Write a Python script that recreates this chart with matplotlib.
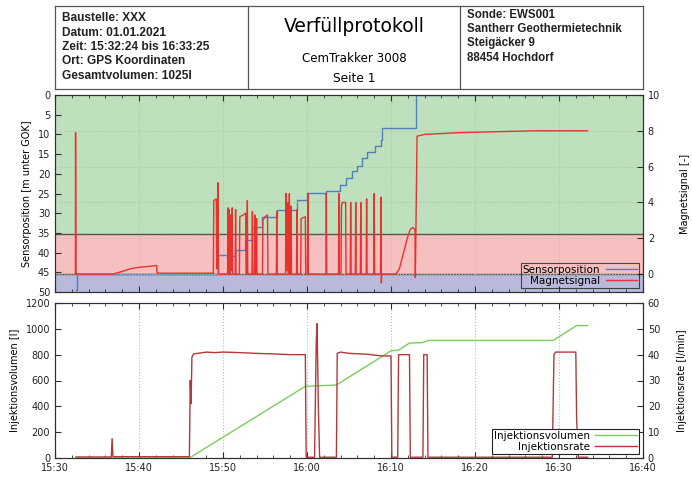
import matplotlib
matplotlib.use("Agg")
import matplotlib.pyplot as plt
import matplotlib.dates as mdates
import pandas as pd

# Zeitachse: Minuten nach 15:30
start = pd.Timestamp("2021-01-01 15:30:00")

# Sensorposition [m unter GOK] (Stufen)
pos_min = [2.45, 2.6, 19.4, 20.5, 21.0, 21.4, 22.6, 23.4, 24.6, 26.4, 28.8, 30.0,
           32.3, 33.9, 34.7, 35.4, 36.0, 36.5, 37.1, 38.1, 38.8, 38.9, 43.0, 63.4]
pos_m = [49.5, 45.5, 40.6, 41.6, 40.8, 39.3, 36.8, 33.4, 31.0, 29.2, 26.6, 24.9,
         24.4, 22.8, 21.1, 19.3, 18.0, 16.0, 14.5, 12.9, 11.4, 8.4, 0.0, 0.0]

# Magnetsignal [-]
mag_min = [2.43, 2.45, 2.5,
           6.9, 8.0, 9.0, 10.0, 11.0, 12.1, 12.15,
           18.85, 18.9, 19.2, 19.25, 19.35, 19.4, 19.45,
           20.55, 20.6, 20.65, 20.7, 20.75, 20.8, 20.85, 20.9, 20.95, 21.05, 21.1, 21.15,
           21.45, 21.5, 21.55,
           21.95, 22.0, 22.4, 22.7, 22.75,
           22.85, 22.9, 22.95,
           23.45, 23.5, 23.55,
           23.75, 23.8, 23.85,
           23.95, 24.0, 24.05,
           24.7, 24.75, 25.0, 25.3, 25.35,
           26.35, 26.4, 26.45,
           27.45, 27.5, 27.55, 27.65, 27.7, 27.75, 27.85, 27.9, 27.95, 28.05, 28.1, 28.15,
           28.75, 28.8, 28.85,
           29.25, 29.3, 29.8, 29.85,
           30.05, 30.1, 30.15,
           32.25, 32.3, 32.35,
           33.75, 33.8, 33.85, 34.05, 34.1, 34.2, 34.6, 34.65,
           35.15, 35.2, 35.25,
           35.75, 35.8, 35.85,
           36.35, 36.4, 36.45,
           37.05, 37.1, 37.15,
           37.95, 38.0, 38.05,
           38.75, 38.8, 38.85, 38.9,
           40.6, 41.0, 41.5, 42.0, 42.3, 42.6, 42.85, 42.9, 43.1, 44.0, 48.2, 57.0, 63.4]
mag_val = [0, 7.9, 0,
           0, 0.15, 0.3, 0.38, 0.42, 0.48, 0.05,
           0.05, 4.1, 4.2, 0.3, 0.3, 5.1, 0,
           0, 3.7, 0, 0, 3.6, 0, 0, 3.3, 0.2, 0.2, 3.7, 0,
           0, 3.6, 0,
           0, 3.2, 3.3, 3.4, 0,
           0, 4.1, 0,
           0, 3.5, 0,
           0, 3.3, 0,
           0, 3.1, 0,
           0, 3.0, 3.2, 3.3, 0,
           0, 3.5, 0,
           0, 4.5, 0.2, 0.2, 4.0, 0, 0, 4.5, 0, 0, 3.8, 0,
           0, 3.6, 0,
           0, 3.1, 3.2, 0,
           0, 4.5, 0,
           0, 4.5, 0,
           0, 4.5, 0, 0, 3.8, 4.0, 4.0, 0,
           0, 4.0, 0,
           0, 4.0, 0,
           0, 4.0, 0,
           0, 4.2, 0,
           0, 4.5, 0,
           0, 4.3, -0.5, 0,
           0, 0.3, 1.2, 2.1, 2.5, 2.6, 2.5, -0.2, 7.7, 7.8, 7.9, 8.0, 8.0]

# Injektionsvolumen [l]
vol_min = [2.5, 16.0, 29.8, 33.5, 40.0, 40.9, 42.2, 43.7, 44.5, 59.3, 62.1, 63.4]
vol_l = [0, 0, 555, 565, 830, 835, 890, 893, 910, 910, 1025, 1025]

# Injektionsrate [l/min]
rate_min = [2.5, 6.7, 6.8, 6.9, 16.0, 16.1, 16.2, 16.3, 16.5, 17.0, 18.0, 19.0, 20.0, 22.0,
            24.0, 26.0, 28.0, 29.8, 29.9, 30.9, 31.1, 31.2, 31.35, 31.5, 33.5, 33.6, 34.0,
            35.0, 37.0, 39.0, 40.0, 40.1, 40.8, 40.9, 42.2, 42.3, 43.8, 43.9, 44.3, 44.4,
            59.2, 59.3, 59.4, 59.6, 62.0, 62.1, 62.3, 63.4]
rate_val = [0.4, 0.4, 7.5, 0.5, 0.5, 30, 21, 39, 40.3, 40.5, 41.0, 40.8, 41.0, 40.8,
            40.5, 40.3, 40.0, 40.0, 0.3, 0.3, 45, 52, 20, 0.3, 0.3, 40.5, 41,
            40.5, 40.2, 39.5, 39.5, 0.3, 0.3, 40, 40, 0.3, 0.3, 40, 40, 0.3,
            0.3, 20, 40, 41, 41, 15, 0.3, 0.3]

header_left = ["Baustelle: XXX", "Datum: 01.01.2021", "Zeit: 15:32:24 bis 16:33:25",
               "Ort: GPS Koordinaten", "Gesamtvolumen: 1025l"]
header_right = ["Sonde: EWS001", "Santherr Geothermietechnik", "Steigäcker 9", "88454 Hochdorf"]


def to_time(mins):
    return start + pd.to_timedelta(mins, unit="min")


W, H = 692, 478
fig = plt.figure(figsize=(W / 100, H / 100), dpi=100)
plt.rcParams["font.size"] = 7


def px_axes(x0, y0, x1, y1):
    return fig.add_axes([x0 / W, 1 - y1 / H, (x1 - x0) / W, (y1 - y0) / H])


spine_col = "#303030"

# Kopfzeile
hax = px_axes(55, 6, 643, 89)
hax.set_xlim(0, 588)
hax.set_ylim(83, 0)
hax.set_xticks([])
hax.set_yticks([])
for s in hax.spines.values():
    s.set_color("#555555")
    s.set_linewidth(0.9)
hax.axvline(193, color="#555555", lw=0.9)
hax.axvline(405, color="#555555", lw=0.9)
for i, t in enumerate(header_left):
    hax.text(7, 12 + i * 14.5, t, fontsize=8.6, fontweight="bold", family="Liberation Sans",
             va="center", color="#222222")
for i, t in enumerate(header_right):
    hax.text(412, 9 + i * 14.2, t, fontsize=8.3, fontweight="bold", family="Liberation Sans",
             va="center", color="#222222")
hax.text(299, 21, "Verfüllprotokoll", fontsize=13.5, ha="center", va="center")
hax.text(299, 52, "CemTrakker 3008", fontsize=8.6, ha="center", va="center")
hax.text(299, 72, "Seite 1", fontsize=8.8, ha="center", va="center")

t0, t1 = pd.Timestamp("2021-01-01 15:30"), pd.Timestamp("2021-01-01 16:40")


def style_x(ax, labels):
    ax.set_xlim(t0, t1)
    ax.xaxis.set_major_locator(mdates.MinuteLocator(byminute=range(0, 60, 10)))
    ax.xaxis.set_minor_locator(mdates.MinuteLocator(byminute=range(0, 60, 2)))
    ax.xaxis.set_major_formatter(mdates.DateFormatter("%H:%M"))
    ax.tick_params(axis="x", which="both", direction="in", top=True, labelbottom=labels,
                   colors=spine_col, labelcolor="#222222")
    ax.tick_params(axis="x", which="major", length=4)
    ax.tick_params(axis="x", which="minor", length=2)
    ax.grid(axis="x", which="major", linestyle=":", color="#bbbbbb", lw=0.8)
    for s in ax.spines.values():
        s.set_color(spine_col)
        s.set_linewidth(0.8)


# Oberes Diagramm
ax1 = px_axes(55, 95, 643, 292)
style_x(ax1, False)
ax1.set_ylim(50, 0)
ax1.set_yticks(range(0, 51, 5))
ax1.tick_params(axis="y", direction="in", length=4, colors=spine_col, labelcolor="#222222")
ax1.axhspan(0, 35.2, color="#bfe0bc", lw=0, zorder=0)
ax1.axhspan(35.2, 45.5, color="#f7c0c0", lw=0, zorder=0)
ax1.axhspan(45.5, 50, color="#b9b9dc", lw=0, zorder=0)
ax1.axhline(35.2, color="#555555", lw=1, zorder=1)
ax1.axhline(45.5, color="#555555", lw=1, zorder=1)
ax1.set_ylabel("Sensorposition [m unter GOK]", labelpad=4)
l_pos, = ax1.step(to_time(pos_min), pos_m, where="post", color="#4f7fc0", lw=1, zorder=3)

ax1r = ax1.twinx()
ax1r.set_ylim(-1, 10)
ax1r.set_yticks(range(0, 11, 2))
ax1r.tick_params(axis="y", direction="in", length=4, colors=spine_col, labelcolor="#222222")
ax1r.grid(axis="y", linestyle=":", color="#a8c8a8", lw=0.8)
ax1r.set_ylabel("Magnetsignal [-]", labelpad=14)
l_mag, = ax1r.plot(to_time(mag_min), mag_val, color="#e8322e", lw=1)
for s in ax1r.spines.values():
    s.set_color(spine_col)
    s.set_linewidth(0.8)
leg1 = ax1r.legend([l_pos, l_mag], ["Sensorposition", "Magnetsignal"], loc="lower right",
                   markerfirst=False, fancybox=False, facecolor="none", edgecolor="#222222",
                   fontsize=7.5, handlelength=3, borderpad=0.2, labelspacing=0.1,
                   borderaxespad=0.4, handletextpad=0.5)
leg1.get_frame().set_linewidth(0.8)

# Unteres Diagramm
ax2 = px_axes(55, 303, 643, 458)
style_x(ax2, True)
ax2.set_ylim(0, 1200)
ax2.set_yticks(range(0, 1201, 200))
ax2.tick_params(axis="y", direction="in", length=4, colors=spine_col, labelcolor="#222222")
ax2.set_ylabel("Injektionsvolumen [l]", labelpad=4)
l_vol, = ax2.plot(to_time(vol_min), vol_l, color="#7ccc5c", lw=1, zorder=3)

ax2r = ax2.twinx()
ax2r.set_ylim(0, 60)
ax2r.set_yticks(range(0, 61, 10))
ax2r.tick_params(axis="y", direction="in", length=4, colors=spine_col, labelcolor="#222222")
ax2r.set_ylabel("Injektionsrate [l/min]", labelpad=12)
l_rate, = ax2r.plot(to_time(rate_min), rate_val, color="#b2383a", lw=1)
for s in ax2r.spines.values():
    s.set_color(spine_col)
    s.set_linewidth(0.8)
leg2 = ax2r.legend([l_vol, l_rate], ["Injektionsvolumen", "Injektionsrate"], loc="lower right",
                   markerfirst=False, fancybox=False, facecolor="white", framealpha=1,
                   edgecolor="#222222", fontsize=7.5, handlelength=4, borderpad=0.2,
                   labelspacing=0.1, borderaxespad=0.4, handletextpad=0.5)
leg2.get_frame().set_linewidth(0.8)

fig.savefig("out.png", dpi=100)
